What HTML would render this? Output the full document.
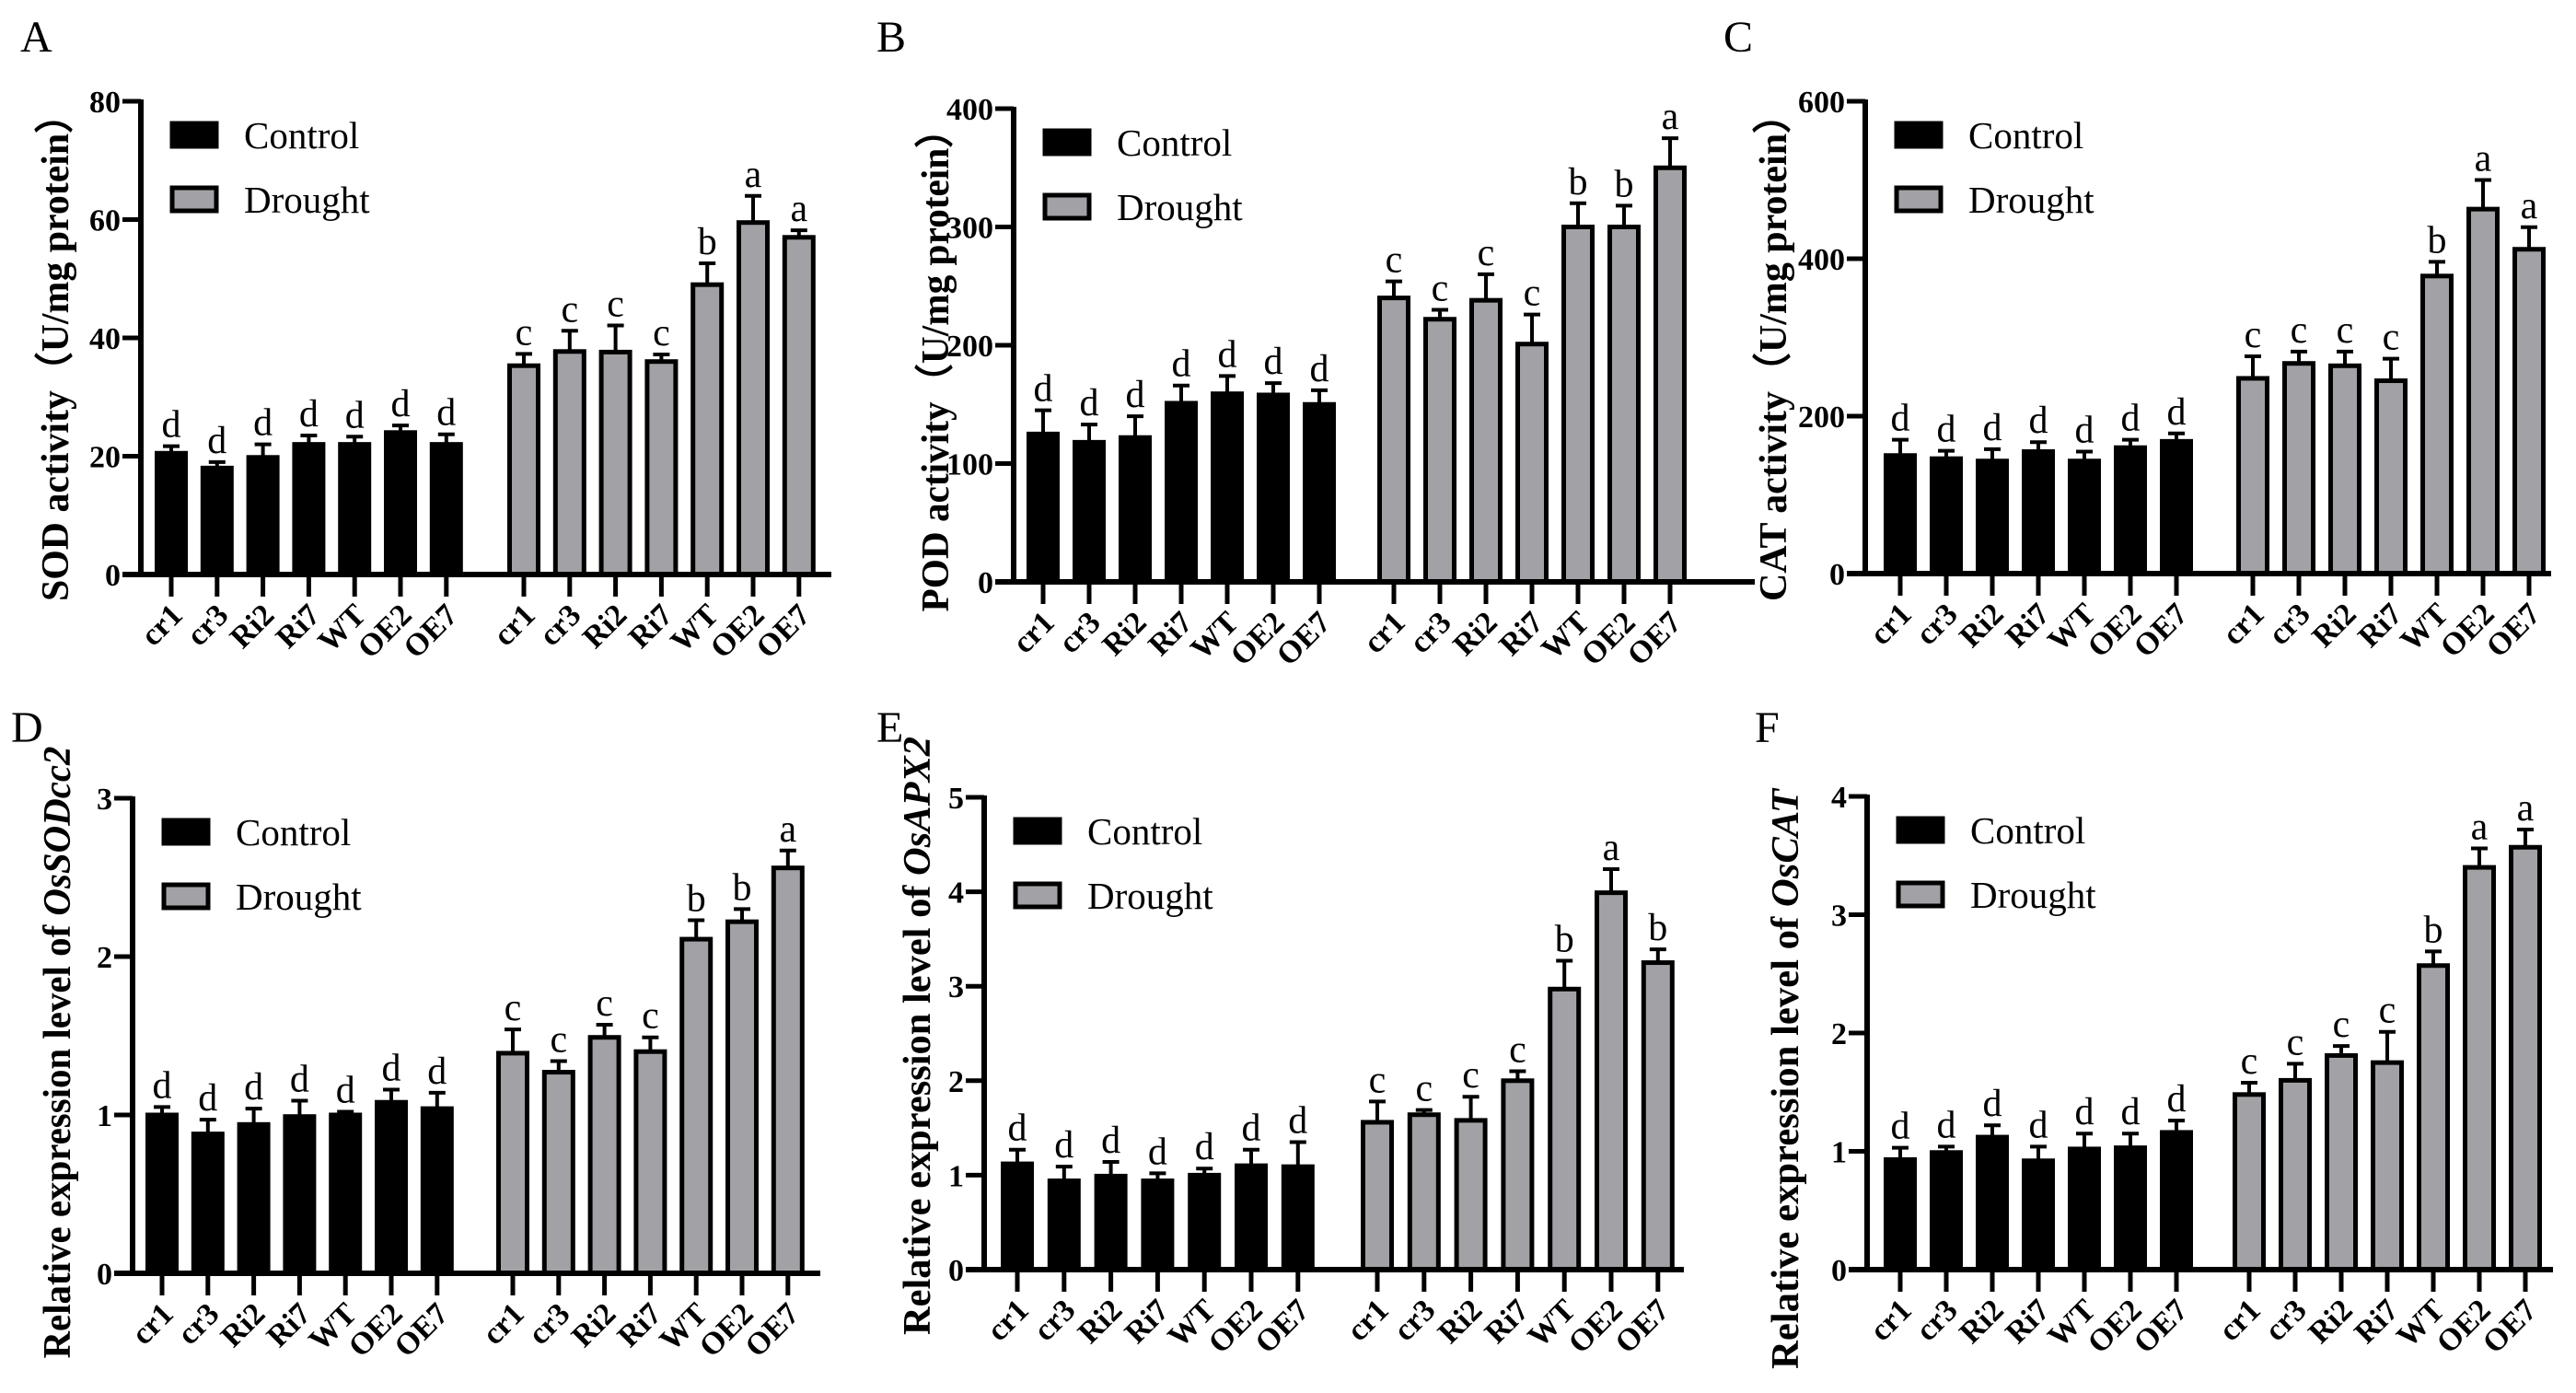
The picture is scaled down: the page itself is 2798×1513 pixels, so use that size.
<!DOCTYPE html>
<html><head><meta charset="utf-8"><style>
html,body{margin:0;padding:0;background:#fff}
svg, svg text{font-family:"Liberation Serif","Times New Roman",Times,serif}
</style></head><body>
<svg id="fig" width="2798" height="1508" viewBox="0 0 2798 1508" xmlns="http://www.w3.org/2000/svg" font-family="Liberation Serif, Times New Roman, serif"></svg>
<script>
const categories = ["cr1","cr3","Ri2","Ri7","WT","OE2","OE7"];
const sodControl = [20.5,18,19.8,22,22,24,22];
const sodControlErr = [1.2,1,2.2,1.5,1.3,1.2,1.7];
const sodDrought = [35.3,37.7,37.6,36,49,59.5,57];
const sodDroughtErr = [2,3.5,4.5,1.2,3.6,4.5,1.2];
const sodLetters = ["d","d","d","d","d","d","d","c","c","c","c","b","a","a"];
const sodTicks = [0,20,40,60,80];
const podControl = [125,118,122,151,159,158,150];
const podControlErr = [20,15,18,15,15,10,12];
const podDrought = [240,222,238,201,300,300,350];
const podDroughtErr = [14,8,22,25,20,18,25];
const podLetters = ["d","d","d","d","d","d","d","c","c","c","c","b","b","a"];
const podTicks = [0,100,200,300,400];
const catControl = [150,146,143,155,143,160,168];
const catControlErr = [20,10,15,12,12,10,10];
const catDrought = [248,267,264,245,378,463,412];
const catDroughtErr = [28,15,18,28,18,37,28];
const catLetters = ["d","d","d","d","d","d","d","c","c","c","c","b","a","a"];
const catTicks = [0,200,400,600];
const sodccControl = [1.0,0.88,0.94,0.99,1.0,1.08,1.04];
const sodccControlErr = [0.05,0.09,0.1,0.1,0.02,0.08,0.1];
const sodccDrought = [1.39,1.27,1.49,1.4,2.11,2.22,2.56];
const sodccDroughtErr = [0.15,0.07,0.08,0.09,0.12,0.08,0.11];
const sodccLetters = ["d","d","d","d","d","d","d","c","c","c","c","b","b","a"];
const sodccTicks = [0,1,2,3];
const apxControl = [1.12,0.94,0.99,0.94,1.0,1.1,1.09];
const apxControlErr = [0.15,0.15,0.15,0.08,0.07,0.17,0.26];
const apxDrought = [1.56,1.64,1.58,2.0,2.97,3.99,3.25];
const apxDroughtErr = [0.22,0.05,0.25,0.1,0.3,0.25,0.14];
const apxLetters = ["d","d","d","d","d","d","d","c","c","c","c","b","a","b"];
const apxTicks = [0,1,2,3,4,5];
const oscatControl = [0.93,0.99,1.12,0.92,1.02,1.03,1.16];
const oscatControlErr = [0.1,0.05,0.1,0.12,0.13,0.12,0.1];
const oscatDrought = [1.48,1.6,1.81,1.75,2.57,3.4,3.57];
const oscatDroughtErr = [0.1,0.14,0.08,0.26,0.12,0.16,0.15];
const oscatLetters = ["d","d","d","d","d","d","d","c","c","c","c","b","a","a"];
const oscatTicks = [0,1,2,3,4];

const NS="http://www.w3.org/2000/svg";
const FF="Liberation Serif, Times New Roman, serif";
const svg=document.getElementById('fig');
function mk(tag,attrs,parent,txt){const e=document.createElementNS(NS,tag);for(const k in attrs)e.setAttribute(k,attrs[k]);if(tag==='text')e.setAttribute('font-family',FF);if(txt!==undefined)e.textContent=txt;(parent||svg).appendChild(e);return e;}

function panel(o){
  const g=mk('g',{});
  
  
  const max=o.ticks[o.ticks.length-1];
  const y=v=>o.zero-(v/max)*(o.zero-o.top);
  const xC=i=>o.ax+o.c0+i*o.step;
  const xD=i=>o.ax+o.d0+i*o.step;
  const L=mk('text',{x:o.lx,y:o.ly,'font-size':48},g,o.letter);
  
  
  const t=mk('text',{transform:`translate(${o.tx},${o.tyc}) rotate(-90)`,'text-anchor':'middle','font-size':42,'font-weight':'bold','textLength':o.tlen,'lengthAdjust':'spacingAndGlyphs'},g);
  
  
  if(o.gene){mk('tspan',{},t,o.title);mk('tspan',{'font-style':'italic'},t,o.gene);} else t.textContent=o.title;
  function drawBars(vals,errs,xf,fill,off,name){
    vals.forEach((v,i)=>{
      const cx=xf(i),yt=y(v),ye=y(v+errs[i]);
      const eb=mk('path',{d:`M${cx} ${yt}V${ye}M${cx-9} ${ye}H${cx+9}`,stroke:'#000','stroke-width':4,fill:'none'},g);
      
      
      const r=mk('rect',{x:cx-15.5,y:yt,width:31,height:o.zero-yt,fill:fill,stroke:'#000','stroke-width':5},g);
      
      
      const lt=mk('text',{x:cx,y:ye-10,'text-anchor':'middle','font-size':42},g,o.letters[i+off]);
      
      
      const tk=mk('line',{x1:cx,x2:cx,y1:o.zero,y2:o.zero+24,stroke:'#000','stroke-width':5},g);
      
      
      const tl=mk('text',{transform:`translate(${cx+14},${o.zero+46}) rotate(-45)`,'text-anchor':'end','font-size':34,'font-weight':'bold'},g,categories[i]);
      
      
    });
  }
  drawBars(o.c,o.ce,xC,'#000',0,'control');
  drawBars(o.d,o.de,xD,'#a2a2a6',7,'drought');
  const ya=mk('line',{x1:o.ax,x2:o.ax,y1:o.top-2,y2:o.zero+3,stroke:'#000','stroke-width':6},g);
  
  
  const xa=mk('line',{x1:o.ax-20,x2:o.ax+o.xend,y1:o.zero,y2:o.zero,stroke:'#000','stroke-width':6},g);
  
  
  o.ticks.forEach(v=>{
    const tk=mk('line',{x1:o.ax-20,x2:o.ax,y1:y(v),y2:y(v),stroke:'#000','stroke-width':5},g);
    
    
    const tl=mk('text',{x:o.ax-22,y:y(v)+12,'text-anchor':'end','font-size':34,'font-weight':'bold'},g,String(v));
    
    
  });
  const lg=mk('g',{},g);
  
  
  [['Control','#000'],['Drought','#a2a2a6']].forEach((e,k)=>{
    const by=o.top+24+k*70;
    const r=mk('rect',{x:o.ax+34,y:by,width:48,height:25,fill:e[1],stroke:'#000','stroke-width':5},lg);
    
    
    const tx=mk('text',{x:o.ax+112,y:by+27,'font-size':41},lg,e[0]);
    
    
  });
}

panel({letter:'A',lx:22,ly:56,ax:153,top:110,zero:624,c0:33,d0:416,step:49.8,xend:750,ticks:sodTicks,c:sodControl,ce:sodControlErr,d:sodDrought,de:sodDroughtErr,letters:sodLetters,title:'SOD activity（U/mg protein）',tx:74,tyc:378,tlen:550});
panel({letter:'B',lx:952,ly:56,ax:1101,top:118,zero:632,c0:32,d0:413,step:50,xend:805,ticks:podTicks,c:podControl,ce:podControlErr,d:podDrought,de:podDroughtErr,letters:podLetters,title:'POD activity（U/mg protein）',tx:1030,tyc:392,tlen:545});
panel({letter:'C',lx:1872,ly:56,ax:2026,top:110,zero:623,c0:38,d0:421,step:50,xend:745,ticks:catTicks,c:catControl,ce:catControlErr,d:catDrought,de:catDroughtErr,letters:catLetters,title:'CAT activity（U/mg protein）',tx:1940,tyc:378,tlen:550});
panel({letter:'D',lx:12,ly:806,ax:144,top:867,zero:1383,c0:32,d0:413,step:49.8,xend:747,ticks:sodccTicks,c:sodccControl,ce:sodccControlErr,d:sodccDrought,de:sodccDroughtErr,letters:sodccLetters,title:'Relative expression level of ',gene:'OsSODcc2',tx:76,tyc:1143,tlen:665});
panel({letter:'E',lx:952,ly:806,ax:1069,top:866,zero:1379,c0:36,d0:427,step:50.8,xend:760,ticks:apxTicks,c:apxControl,ce:apxControlErr,d:apxDrought,de:apxDroughtErr,letters:apxLetters,title:'Relative expression level of ',gene:'OsAPX2',tx:1010,tyc:1125,tlen:650});
panel({letter:'F',lx:1906,ly:806,ax:2028,top:865,zero:1379,c0:36,d0:415,step:50,xend:745,ticks:oscatTicks,c:oscatControl,ce:oscatControlErr,d:oscatDrought,de:oscatDroughtErr,letters:oscatLetters,title:'Relative expression level of ',gene:'OsCAT',tx:1953,tyc:1172,tlen:630});
</script>
</body></html>
